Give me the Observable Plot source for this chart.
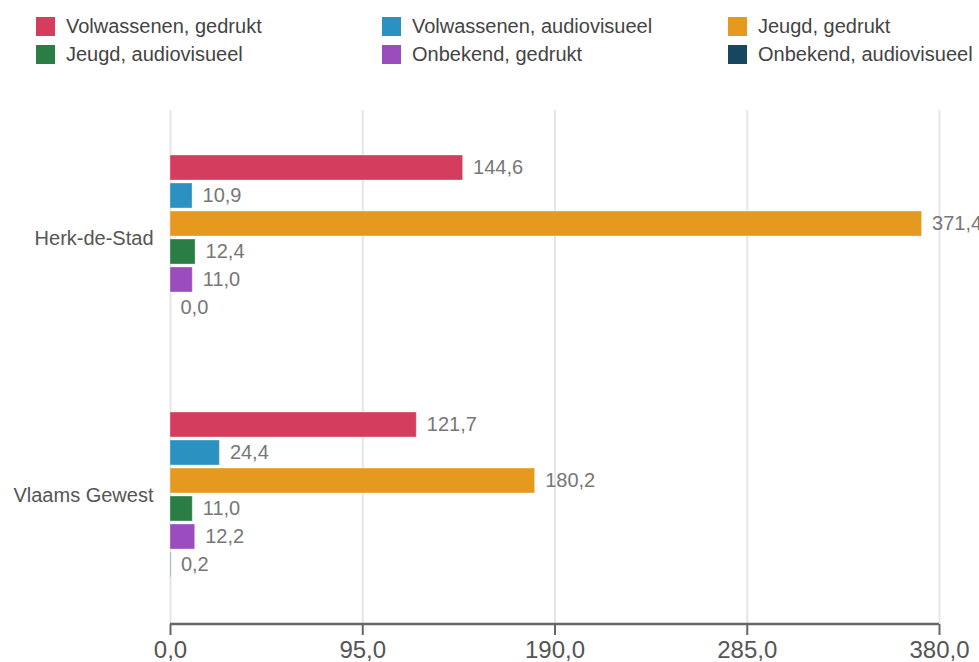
<!DOCTYPE html>
<html>
<head>
<meta charset="utf-8">
<script src="https://cdn.jsdelivr.net/npm/d3@7"></script>
<script src="https://cdn.jsdelivr.net/npm/@observablehq/plot@0.6"></script>
<style>
  html, body { margin: 0; padding: 0; background: #fff; }
  body { width: 979px; height: 662px; overflow: hidden; font-family: "Liberation Sans", Arial, sans-serif; }
  #legend { position: relative; height: 80px; width: 979px; }
  .item { position: absolute; display: flex; align-items: center; font-size: 20px; color: #444; white-space: nowrap; line-height: 20px; }
  .sw { width: 19px; height: 19px; margin-right: 11px; flex: none; }
</style>
</head>
<body>
<div id="legend"></div>
<div id="chart"></div>
<script>
const regions = ["Herk-de-Stad", "Vlaams Gewest"];
const series = [
  "Volwassenen, gedrukt",
  "Volwassenen, audiovisueel",
  "Jeugd, gedrukt",
  "Jeugd, audiovisueel",
  "Onbekend, gedrukt",
  "Onbekend, audiovisueel"
];
const colors = ["#d43d5d", "#2b91c0", "#e59a1f", "#2a7d45", "#9b4dbe", "#17475e"];
const valuesHerk = [144.6, 10.9, 371.4, 12.4, 11.0, 0.0];
const valuesVlaams = [121.7, 24.4, 180.2, 11.0, 12.2, 0.2];
const xTicks = [0, 95, 190, 285, 380];

const data = [];
series.forEach((s, i) => {
  data.push({region: regions[0], series: s, value: valuesHerk[i]});
  data.push({region: regions[1], series: s, value: valuesVlaams[i]});
});

const fmt = v => v.toFixed(1).replace(".", ",");

// Legend
const legend = document.getElementById("legend");
const colX = [36, 382, 728];
const rowY = [16, 44];
series.forEach((s, i) => {
  const div = document.createElement("div");
  div.className = "item";
  div.style.left = colX[i % 3] + "px";
  div.style.top = rowY[Math.floor(i / 3)] + "px";
  const sw = document.createElement("span");
  sw.className = "sw";
  sw.style.background = colors[i];
  const t = document.createElement("span");
  t.textContent = s;
  div.appendChild(sw);
  div.appendChild(t);
  legend.appendChild(div);
});

const W = 979, H = 582, mL = 170, mR = 40, mT = 29, mB = 38;

const plot = Plot.plot({
  width: W,
  height: H,
  marginLeft: mL,
  marginRight: mR,
  marginTop: mT,
  marginBottom: mB,
  style: {fontFamily: "Liberation Sans, Arial, sans-serif", background: "transparent", overflow: "visible"},
  x: {domain: [0, 380], ticks: xTicks, tickFormat: fmt, label: null},
  y: {domain: series, padding: 0.12, insetTop: 39.5, insetBottom: 42.5, axis: null},
  fy: {domain: regions, padding: 0, label: null},
  color: {domain: series, range: colors},
  marks: [
    Plot.gridX(xTicks, {stroke: "#e6e6e6", strokeOpacity: 1, strokeWidth: 2}),
    Plot.barX(data, {x: "value", y: "series", fy: "region", fill: "series", stroke: "#ffffff", strokeOpacity: 0.35, strokeWidth: 1}),
    Plot.text(data, {x: "value", y: "series", fy: "region", text: d => fmt(d.value), dx: 10, textAnchor: "start", fill: "#777", fontSize: 20}),
    Plot.axisX(xTicks, {anchor: "bottom", tickFormat: fmt, tickSize: 11, tickPadding: 5, stroke: "#666", strokeWidth: 2, strokeOpacity: 1, fill: "#555", fontSize: 24, label: null}),
    Plot.axisFy({anchor: "left", tickSize: 0, tickPadding: 17, fill: "#555", fontSize: 20, label: null})
  ]
});

// Axis domain line from the x scale
const xs = plot.scale("x");
d3.select(plot).append("line")
  .attr("x1", xs.apply(xTicks[0]))
  .attr("x2", xs.apply(xTicks[xTicks.length - 1]))
  .attr("y1", H - mB)
  .attr("y2", H - mB)
  .attr("stroke", "#666")
  .attr("stroke-width", 2.5);

document.getElementById("chart").appendChild(plot);
</script>
</body>
</html>
